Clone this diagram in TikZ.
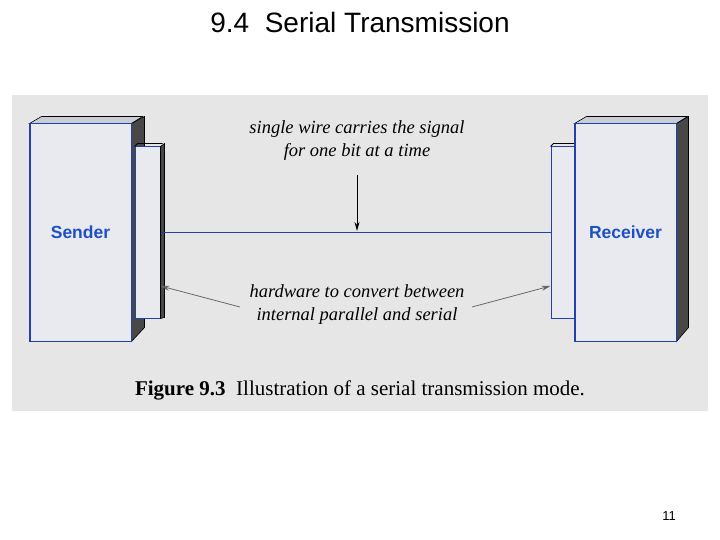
\documentclass[tikz,border=0pt]{standalone}
\usepackage{fontspec}
\setmainfont{Liberation Serif}
\setsansfont{Liberation Sans}
\usetikzlibrary{positioning,arrows.meta}
\definecolor{panelgray}{RGB}{230,230,230}
\definecolor{boxblue}{RGB}{35,65,170}
\definecolor{labelblue}{RGB}{30,80,195}
\definecolor{facegray}{RGB}{232,234,240}
\definecolor{topgray}{RGB}{200,204,212}
\definecolor{sidegray}{RGB}{72,72,72}
\definecolor{ptrgray}{RGB}{105,105,105}
\tikzset{
  frontface/.style={draw=boxblue, fill=facegray, line width=1pt, inner sep=0pt},
  sideface/.style={draw=black, fill=sidegray, line width=0.6pt},
  topface/.style={draw=black, fill=topgray, line width=0.6pt},
  boxtext/.style={text=labelblue, font=\sffamily\bfseries\fontsize{17.5}{20}\selectfont},
  note/.style={align=center, font=\itshape\fontsize{18.5}{23}\selectfont},
  pointer/.style={draw=ptrgray, line width=0.8pt, -{Stealth[length=9pt,width=5pt,fill=black!80]}}
}

\begin{document}
\begin{tikzpicture}[x=1pt, y=-1pt]
  \useasboundingbox (0,0) rectangle (720,540);
  \node (title) at (360,22) {\sffamily\fontsize{28}{30}\selectfont 9.4\ \ Serial Transmission};
  \fill[panelgray] (12,95) rectangle (708,411);

  % sender with its converter
  \node (sender) [frontface, minimum width=101pt, minimum height=217pt] at (80.5,232.5) {};
  \filldraw[topface] (sender.north west) -- ++(12,-7) -- ++(101,0) -- (sender.north east) -- cycle;
  \filldraw[sideface] (sender.north east) -- ++(13,-7) -- ++(0,211) -- (sender.south east) -- cycle;
  \draw[boxblue, line width=1pt] (sender.north west) rectangle (sender.south east);
  \node (sendertext) [boxtext] at (sender.center) {Sender};
  \node (senderconv) [frontface, minimum width=25pt, minimum height=171pt] at (147.5,232.5) {};
  \filldraw[sideface] (senderconv.north east) -- ++(4,-3) -- ++(0,174) -- (senderconv.south east) -- cycle;
  \draw[black, line width=0.8pt] (senderconv.north west) -- ++(3,-3) -- ++(25,0);

  % receiver with its converter
  \node (receiverconv) [frontface, minimum width=24pt, minimum height=171pt] at (563,232.5) {};
  \draw[black, line width=0.8pt] (receiverconv.north west) -- ++(3,-3) -- ++(21,0);
  \node (receiver) [frontface, minimum width=101pt, minimum height=217pt] at (625.5,232.5) {};
  \filldraw[topface] (receiver.north west) -- ++(12,-7) -- ++(101,0) -- (receiver.north east) -- cycle;
  \filldraw[sideface] (receiver.north east) -- ++(12,-7) -- ++(0,211) -- (receiver.south east) -- cycle;
  \draw[boxblue, line width=1pt] (receiver.north west) rectangle (receiver.south east);
  \node (receivertext) [boxtext] at (receiver.center) {Receiver};

  % the wire
  \draw[boxblue, line width=1.6pt] (senderconv.east) -- (receiverconv.west);

  % labels
  \node (wirelabel) [note] at (357,141) {single wire carries the signal\\for one bit at a time};
  \coordinate (wiretop) at (357,175);
  \coordinate (wirehit) at (357,231);
  \draw[black, line width=1pt, -{Stealth[length=9pt,width=5pt]}] (wiretop) -- (wirehit);
  \node (hwlabel) [note] at (357,305) {hardware to convert between\\internal parallel and serial};
  \coordinate (hwleft) at (240,307);
  \coordinate (hwright) at (472,307);
  \draw[pointer] (hwleft) -- (senderconv.east |- 0,286);
  \draw[pointer] (hwright) -- (receiverconv.west |- 0,286);

  \node (caption) at (360,390) {\fontsize{21}{22}\selectfont\textbf{Figure 9.3}\hspace{0.5em}Illustration of a serial transmission mode.};
  \node (pagenum) at (669,516) {\sffamily\fontsize{13}{14}\selectfont 11};
\end{tikzpicture}
\end{document}
